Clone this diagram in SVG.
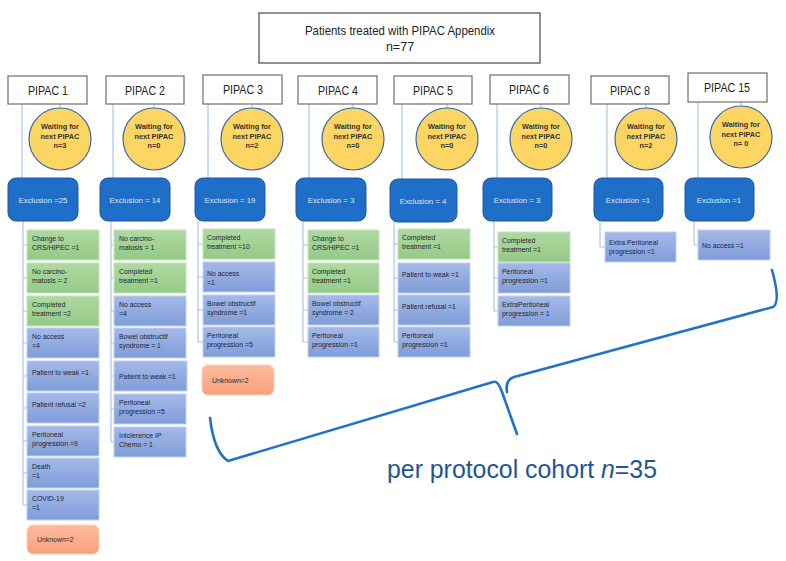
<svg xmlns="http://www.w3.org/2000/svg" width="786" height="561" viewBox="0 0 786 561">
<defs>
<linearGradient id="gG" x1="0" y1="0" x2="0" y2="1"><stop offset="0" stop-color="#afd9a2"/><stop offset="1" stop-color="#94ca86"/></linearGradient>
<linearGradient id="gB" x1="0" y1="0" x2="0" y2="1"><stop offset="0" stop-color="#a4b9e8"/><stop offset="1" stop-color="#7f9dd8"/></linearGradient>
<linearGradient id="gO" x1="0" y1="0" x2="0" y2="1"><stop offset="0" stop-color="#fcbb9c"/><stop offset="1" stop-color="#f8a07c"/></linearGradient>
</defs>
<style>
text{font-family:"Liberation Sans",Arial,sans-serif}
.title{font-size:12.5px;fill:#222;text-anchor:middle}
.pbox{fill:#fff;stroke:#6e6e6e;stroke-width:1.2}
.plab{font-size:12.5px;fill:#222;text-anchor:middle}
.circ{fill:#fdd562;stroke:#3a66a8;stroke-width:1.2}
.ctx{font-size:7.3px;font-weight:bold;fill:#333;text-anchor:middle}
.exc{fill:#1f6fc8;stroke:#1d5aa6;stroke-width:1}
.etx{font-size:7.8px;fill:#dbe7f7;text-anchor:middle}
.g{fill:url(#gG);stroke:#c6e4bb;stroke-width:1}
.b{fill:url(#gB);stroke:#c3d1f0;stroke-width:1}
.o{fill:url(#gO);stroke:#fcd0bb;stroke-width:1}
.it{font-size:6.9px;fill:#1e2633}
.ln{stroke:#a3c2e6;stroke-width:1.1;fill:none}
.brace{stroke:#2372c9;stroke-width:2.6;fill:none;stroke-linecap:round;stroke-linejoin:round}
.big{font-size:25px;fill:#1f5597}
</style>

<g id="connectors">
<path class="ln" d="M22,104V178 M60,104V108 M23,221V505 M23,245H27 M23,278H27 M23,311H27 M23,343H27 M23,376H27 M23,408H27 M23,441H27 M23,473H27 M23,505H27"/>
<path class="ln" d="M113,104V178 M154,104V108 M111,221V442 M111,245H114 M111,278H114 M111,311H114 M111,343H114 M111,376H114 M111,409H114 M111,442H114"/>
<path class="ln" d="M208,104V178 M252,104V108 M198,221V342 M198,244H203 M198,277H203 M198,310H203 M198,342H203"/>
<path class="ln" d="M309,104V178 M353,104V108 M303,221V342 M303,245H308 M303,278H308 M303,310H308 M303,342H308"/>
<path class="ln" d="M402,104V179 M447,104V108 M394,222V342 M394,244H398 M394,278H398 M394,310H398 M394,342H398"/>
<path class="ln" d="M497,104V178 M541,104V108 M494,221V311 M494,247H498 M494,278H498 M494,311H498"/>
<path class="ln" d="M607,104V178 M646,104V108 M600,221V247 M600,247H605"/>
<path class="ln" d="M698,102V178 M741,102V106 M694,221V245 M694,245H698"/>
</g>

<g id="title">
<rect x="259" y="13" width="281" height="50" fill="#fff" stroke="#555" stroke-width="1.3"/>
<text class="title" x="400" y="35" textLength="190" lengthAdjust="spacingAndGlyphs">Patients treated with PIPAC Appendix</text>
<text class="title" x="400" y="51">n=77</text>
</g>

<g id="pipac1">
<rect class="pbox" x="8" y="76" width="79" height="28"/><text class="plab" x="48" y="95" textLength="40" lengthAdjust="spacingAndGlyphs">PIPAC 1</text>
<circle class="circ" cx="60" cy="139" r="31"/><text class="ctx" x="60" y="129">Waiting for</text><text class="ctx" x="60" y="139">next PIPAC</text><text class="ctx" x="60" y="148">n=3</text>
<rect class="exc" x="8" y="178" width="70" height="43" rx="8"/><text class="etx" x="43" y="203">Exclusion =25</text>
<rect class="g" x="27" y="230" width="72" height="30"/><text class="it" x="32" y="240.5">Change to</text><text class="it" x="32" y="249.5">CRS/HIPEC =1</text>
<rect class="g" x="27" y="263" width="72" height="30"/><text class="it" x="32" y="273.5">No carcino-</text><text class="it" x="32" y="282.5">matosis = 2</text>
<rect class="g" x="27" y="296" width="72" height="30"/><text class="it" x="32" y="306.5">Completed</text><text class="it" x="32" y="315.5">treatment =2</text>
<rect class="b" x="27" y="328" width="72" height="30"/><text class="it" x="32" y="338.5">No access</text><text class="it" x="32" y="347.5"> =4</text>
<rect class="b" x="27" y="361" width="72" height="30"/><text class="it" x="32" y="374.5">Patient to weak =1</text>
<rect class="b" x="27" y="393" width="72" height="30"/><text class="it" x="32" y="406.5">Patient refusal =2</text>
<rect class="b" x="27" y="426" width="72" height="30"/><text class="it" x="32" y="436.5">Peritoneal</text><text class="it" x="32" y="445.5">progression =9</text>
<rect class="b" x="27" y="458" width="72" height="30"/><text class="it" x="32" y="468.5">Death</text><text class="it" x="32" y="477.5">=1</text>
<rect class="b" x="27" y="490" width="72" height="30"/><text class="it" x="32" y="500.5">COVID-19</text><text class="it" x="32" y="509.5">=1</text>
<rect class="o" x="27" y="525" width="72" height="29" rx="6"/><text class="it" x="37" y="542">Unknown=2</text>
</g>

<g id="pipac2">
<rect class="pbox" x="106" y="76" width="78" height="28"/><text class="plab" x="145" y="95" textLength="40" lengthAdjust="spacingAndGlyphs">PIPAC 2</text>
<circle class="circ" cx="154" cy="139" r="31"/><text class="ctx" x="154" y="129">Waiting for</text><text class="ctx" x="154" y="139">next PIPAC</text><text class="ctx" x="154" y="148">n=0</text>
<rect class="exc" x="100" y="178" width="70" height="43" rx="8"/><text class="etx" x="135" y="203">Exclusion = 14</text>
<rect class="g" x="114" y="230" width="72" height="30"/><text class="it" x="119" y="240.5">No carcino-</text><text class="it" x="119" y="249.5">matosis = 1</text>
<rect class="g" x="114" y="263" width="72" height="30"/><text class="it" x="119" y="273.5">Completed</text><text class="it" x="119" y="282.5">treatment =1</text>
<rect class="b" x="114" y="296" width="72" height="30"/><text class="it" x="119" y="306.5">No access</text><text class="it" x="119" y="315.5"> =4</text>
<rect class="b" x="114" y="328" width="72" height="30"/><text class="it" x="119" y="338.5">Bowel obstructif</text><text class="it" x="119" y="347.5">syndrome = 1</text>
<rect class="b" x="114" y="361" width="73" height="30"/><text class="it" x="119" y="379">Patient to weak =1</text>
<rect class="b" x="114" y="394" width="72" height="30"/><text class="it" x="119" y="404.5">Peritoneal</text><text class="it" x="119" y="413.5">progression =5</text>
<rect class="b" x="114" y="427" width="72" height="30"/><text class="it" x="119" y="437.5">Intolerence IP</text><text class="it" x="119" y="446.5">Chemo = 1</text>
</g>

<g id="pipac3">
<rect class="pbox" x="203" y="75" width="79" height="29"/><text class="plab" x="243" y="94" textLength="40" lengthAdjust="spacingAndGlyphs">PIPAC 3</text>
<circle class="circ" cx="252" cy="139" r="31"/><text class="ctx" x="252" y="129">Waiting for</text><text class="ctx" x="252" y="139">next PIPAC</text><text class="ctx" x="252" y="148">n=2</text>
<rect class="exc" x="195" y="178" width="70" height="43" rx="8"/><text class="etx" x="230" y="203">Exclusion = 19</text>
<rect class="g" x="203" y="229" width="72" height="30"/><text class="it" x="207" y="239.5">Completed</text><text class="it" x="207" y="248.5">treatment =10</text>
<rect class="b" x="203" y="262" width="72" height="30"/><text class="it" x="207" y="275.5">No access</text><text class="it" x="207" y="284.5"> =1</text>
<rect class="b" x="203" y="295" width="72" height="30"/><text class="it" x="207" y="305.5">Bowel obstructif</text><text class="it" x="207" y="314.5">syndrome =1</text>
<rect class="b" x="203" y="327" width="72" height="30"/><text class="it" x="207" y="337.5">Peritoneal</text><text class="it" x="207" y="346.5">progression =5</text>
<rect class="o" x="202" y="365" width="72" height="30" rx="6"/><text class="it" x="212" y="382.5">Unknown=2</text>
</g>

<g id="pipac4">
<rect class="pbox" x="298" y="76" width="79" height="28"/><text class="plab" x="338" y="95" textLength="40" lengthAdjust="spacingAndGlyphs">PIPAC 4</text>
<circle class="circ" cx="353" cy="139" r="31"/><text class="ctx" x="353" y="129">Waiting for</text><text class="ctx" x="353" y="139">next PIPAC</text><text class="ctx" x="353" y="148">n=0</text>
<rect class="exc" x="296" y="178" width="70" height="43" rx="8"/><text class="etx" x="331" y="203">Exclusion = 3</text>
<rect class="g" x="308" y="230" width="71" height="30"/><text class="it" x="312" y="240.5">Change to</text><text class="it" x="312" y="249.5">CRS/HIPEC =1</text>
<rect class="g" x="308" y="263" width="71" height="30"/><text class="it" x="312" y="273.5">Completed</text><text class="it" x="312" y="282.5">treatment =1</text>
<rect class="b" x="308" y="295" width="71" height="30"/><text class="it" x="312" y="305.5">Bowel obstructif</text><text class="it" x="312" y="314.5">syndrome = 2</text>
<rect class="b" x="308" y="327" width="71" height="30"/><text class="it" x="312" y="337.5">Peritoneal</text><text class="it" x="312" y="346.5">progression =1</text>
</g>

<g id="pipac5">
<rect class="pbox" x="394" y="76" width="78" height="28"/><text class="plab" x="433" y="95" textLength="40" lengthAdjust="spacingAndGlyphs">PIPAC 5</text>
<circle class="circ" cx="447" cy="139" r="31"/><text class="ctx" x="447" y="129">Waiting for</text><text class="ctx" x="447" y="139">next PIPAC</text><text class="ctx" x="447" y="148">n=0</text>
<rect class="exc" x="390" y="179" width="67" height="43" rx="8"/><text class="etx" x="423" y="204">Exclusion = 4</text>
<rect class="g" x="398" y="229" width="72" height="30"/><text class="it" x="402" y="239.5">Completed</text><text class="it" x="402" y="248.5">treatment =1</text>
<rect class="b" x="398" y="263" width="72" height="30"/><text class="it" x="402" y="276.5">Patient to weak =1</text>
<rect class="b" x="398" y="295" width="72" height="30"/><text class="it" x="402" y="308.5">Patient refusal =1</text>
<rect class="b" x="398" y="327" width="72" height="30"/><text class="it" x="402" y="337.5">Peritoneal</text><text class="it" x="402" y="346.5">progression =1</text>
</g>

<g id="pipac6">
<rect class="pbox" x="490" y="75" width="79" height="29"/><text class="plab" x="529" y="94" textLength="40" lengthAdjust="spacingAndGlyphs">PIPAC 6</text>
<circle class="circ" cx="541" cy="139" r="31"/><text class="ctx" x="541" y="129">Waiting for</text><text class="ctx" x="541" y="139">next PIPAC</text><text class="ctx" x="541" y="148">n=0</text>
<rect class="exc" x="483" y="178" width="69" height="43" rx="8"/><text class="etx" x="517" y="203">Exclusion = 3</text>
<rect class="g" x="498" y="232" width="72" height="30"/><text class="it" x="502" y="242.5">Completed</text><text class="it" x="502" y="251.5">treatment =1</text>
<rect class="b" x="498" y="263" width="72" height="30"/><text class="it" x="502" y="273.5">Peritoneal</text><text class="it" x="502" y="282.5">progression =1</text>
<rect class="b" x="498" y="296" width="72" height="30"/><text class="it" x="502" y="306.5">ExtraPeritoneal</text><text class="it" x="502" y="315.5">progression = 1</text>
</g>

<g id="pipac8">
<rect class="pbox" x="591" y="76" width="78" height="28"/><text class="plab" x="630" y="95" textLength="40" lengthAdjust="spacingAndGlyphs">PIPAC 8</text>
<circle class="circ" cx="646" cy="139" r="31"/><text class="ctx" x="646" y="129">Waiting for</text><text class="ctx" x="646" y="139">next PIPAC</text><text class="ctx" x="646" y="148">n=2</text>
<rect class="exc" x="594" y="178" width="69" height="43" rx="8"/><text class="etx" x="628" y="203">Exclusion =1</text>
<rect class="b" x="605" y="232" width="71" height="30"/><text class="it" x="609" y="244.5">Extra Peritoneal</text><text class="it" x="609" y="253.5">progression =1</text>
</g>

<g id="pipac15">
<rect class="pbox" x="688" y="73" width="79" height="29"/><text class="plab" x="727" y="92" textLength="46" lengthAdjust="spacingAndGlyphs">PIPAC 15</text>
<circle class="circ" cx="741" cy="137" r="31"/><text class="ctx" x="741" y="127">Waiting for</text><text class="ctx" x="741" y="137">next PIPAC</text><text class="ctx" x="741" y="146">n= 0</text>
<rect class="exc" x="685" y="178" width="69" height="43" rx="8"/><text class="etx" x="719" y="203">Exclusion =1</text>
<rect class="b" x="698" y="230" width="72" height="30"/><text class="it" x="702" y="248">No access =1</text>
</g>

<g id="brace">
<path class="brace" d="M210,418 Q214,452 228,461 L493,382 Q498,380 502,392 L517,434"/>
<path class="brace" d="M507,392 Q505,380 514,377 L773,307 Q781,302 772,270"/>
<text class="big" x="387" y="478" textLength="270" lengthAdjust="spacingAndGlyphs">per protocol cohort <tspan font-style="italic">n</tspan>=35</text>
</g>
</svg>
